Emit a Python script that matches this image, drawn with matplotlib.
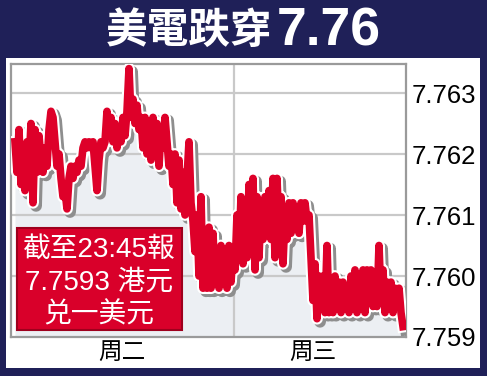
import matplotlib
matplotlib.use('Agg')
import matplotlib.pyplot as plt
import matplotlib.patheffects as pe
from matplotlib.patches import Rectangle
import numpy as np

# USD/HKD, Tue -> Wed (one value every ~2px)
rate = [
    # Tue
    7.7622, 7.7617, 7.7624, 7.7615, 7.7620, 7.7614, 7.7622, 7.7618, 7.7625, 7.7612,
    7.7624, 7.7617, 7.7623, 7.7619, 7.7617, 7.7621, 7.7618, 7.7624, 7.7627, 7.7626,
    7.7622, 7.7618, 7.7620, 7.7616, 7.7613, 7.7614, 7.7611, 7.7616, 7.7618, 7.7616,
    7.7618, 7.7617, 7.7619, 7.7618, 7.7621, 7.7622, 7.7621, 7.7622, 7.7621, 7.7622,
    7.7618, 7.7614, 7.7619, 7.7622, 7.7621, 7.7622, 7.7627, 7.7623, 7.7626, 7.7622,
    7.7625, 7.7621, 7.7624, 7.7622, 7.7626, 7.7623, 7.7627, 7.7634, 7.7626, 7.7629,
    7.7625, 7.7628, 7.7624, 7.7626, 7.7621, 7.7626, 7.7620, 7.7625, 7.7619, 7.7626,
    7.7621, 7.7625, 7.7618, 7.7624, 7.7621, 7.7626, 7.7622, 7.7618, 7.7620, 7.7615,
    7.7620, 7.7612, 7.7619, 7.7611, 7.7617, 7.7610, 7.7616, 7.7622, 7.7612, 7.7609,
    7.7604, 7.7610, 7.7600, 7.7613, 7.7598, 7.7605, 7.7598, 7.7608, 7.7598, 7.7607,
    7.7599, 7.7604, 7.7598, 7.7605, 7.7599, 7.7604, 7.7598, 7.7605, 7.7599, 7.7604,
    # Wed
    7.7601, 7.7610, 7.7603, 7.7613, 7.7602, 7.7610, 7.7603, 7.7615, 7.7605, 7.7616,
    7.7601, 7.7613, 7.7603, 7.7612, 7.7606, 7.7613, 7.7609, 7.7614, 7.7606, 7.7616,
    7.7603, 7.7616, 7.7607, 7.7613, 7.7602, 7.7610, 7.7606, 7.7612, 7.7607, 7.7612,
    7.7608, 7.7611, 7.7607, 7.7612, 7.7609, 7.7612, 7.7609, 7.7610, 7.7603, 7.7596,
    7.7602, 7.7593, 7.7600, 7.7595, 7.7600, 7.7594, 7.7605, 7.7594, 7.7599, 7.7594,
    7.7600, 7.7595, 7.7599, 7.7594, 7.7599, 7.7595, 7.7598, 7.7594, 7.7600, 7.7595,
    7.7601, 7.7594, 7.7600, 7.7595, 7.7601, 7.7594, 7.7601, 7.7596, 7.7601, 7.7595,
    7.7600, 7.7595, 7.7605, 7.7596, 7.7601, 7.7594, 7.7599, 7.7595, 7.7599, 7.7594,
    7.7598, 7.7595, 7.7598, 7.7594, 7.75917,
]
day_split = 110          # first Wed sample
day_labels = ['周二', '周三']
yticks = [7.759, 7.760, 7.761, 7.762, 7.763]

title_cn = '美電跌穿'
title_num = '7.76'
note_lines = ['截至23:45報', '7.7593 港元', '兑一美元']

NAVY = '#1f2058'
RED = '#de0029'
W, H = 487, 376

def fx(px):
    return px / W

def fy(py):
    return 1 - py / H

fig = plt.figure(figsize=(W / 100, H / 100), dpi=100, facecolor=NAVY)

# white panel behind the chart
fig.patches.append(Rectangle((fx(6), fy(368)), (480 - 6) / W, (368 - 58) / H,
                             transform=fig.transFigure, fc='white', ec='none', zorder=-1))

ax = fig.add_axes([fx(11), fy(337), (406 - 11) / W, (337 - 64) / H])
x = np.arange(len(rate))
y = np.array(rate)

ax.fill_between(x, yticks[0], y, color='#eceff3', lw=0, zorder=1)
ax.plot(x, y, color=RED, lw=5.5, solid_joinstyle='round', zorder=3,
        path_effects=[pe.SimpleLineShadow(offset=(2.2, -2.2), shadow_color='#8e8e8e',
                                          alpha=1, rho=1, linewidth=8.5),
                      pe.Stroke(linewidth=8.5, foreground='white'),
                      pe.Normal()])

ax.set_xlim(-2, 195.5)
ax.set_ylim(7.759, 7.759 + 273 / 61000)

for v in yticks[1:]:
    ax.axhline(v, color='#c9c9c9', lw=1.6, zorder=1.5)
ax.axvline(day_split - 0.5, color='#c9c9c9', lw=1.6, zorder=1.5)

for s in ax.spines.values():
    s.set_color('#9a9a9a')
    s.set_linewidth(1.6)

ax.yaxis.tick_right()
ax.set_yticks(yticks)
ax.set_yticklabels([f'{v:.3f}' for v in yticks],
                   fontfamily='Liberation Sans', fontsize=18.5)
ax.tick_params(axis='y', length=0, pad=4)

ax.set_xticks([53.5, 149])
ax.set_xticklabels(day_labels, fontfamily='Noto Sans CJK TC', fontsize=17)
ax.tick_params(axis='x', length=0, pad=3)

# title
fig.text(fx(272), fy(31), title_cn, color='white', fontsize=30, fontweight='bold',
         fontfamily='Noto Sans CJK TC', ha='right', va='center')
fig.text(fx(277), fy(31), title_num, color='white', fontsize=38.5, fontweight='bold',
         fontfamily='Liberation Sans', ha='left', va='center')

# red note box
fig.patches.append(Rectangle((fx(17), fy(330)), 165 / W, 102 / H, transform=fig.transFigure,
                             fc='#d9002a', ec='#9e001d', lw=1.5, zorder=5))
for i, line in enumerate(note_lines):
    fig.text(fx(99), fy(250 + 32.5 * i), line, color='white', fontsize=20,
             fontfamily=['Liberation Sans', 'Noto Sans CJK TC'],
             ha='center', va='center', zorder=6)

fig.savefig('out.png', dpi=100, facecolor=NAVY)
